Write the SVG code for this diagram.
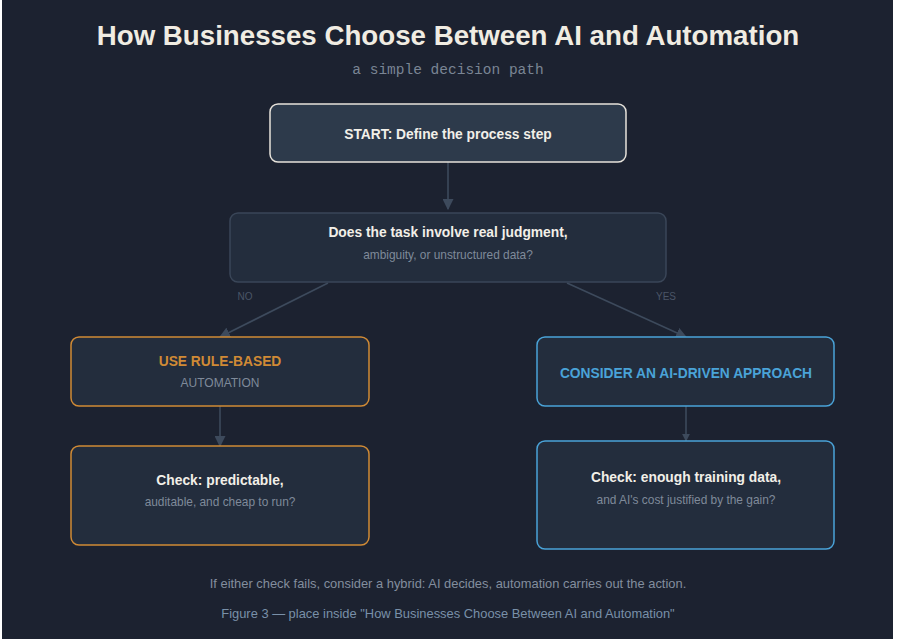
<svg xmlns="http://www.w3.org/2000/svg" width="898" height="639" viewBox="0 0 898 639">
<defs>
<style>
.t{font-family:"Liberation Sans",Arial,sans-serif;text-anchor:middle}
.b{font-weight:bold;font-size:13.8px;fill:#f2efe8}
.s{font-size:11.9px;fill:#7f8a9a}
.lbl{font-size:10px;fill:#4a5567}
.edge{stroke:#3d4a5c;stroke-width:1.6;fill:none}
.box{fill:#232d3d;stroke-width:1.5}
</style>
<marker id="ah" viewBox="0 0 10 10" refX="9" refY="5" markerWidth="8" markerHeight="8" markerUnits="userSpaceOnUse" orient="auto">
<path d="M0,0 L10,5 L0,10 z" fill="#3d4a5c"/>
</marker>
<marker id="ah2" viewBox="0 0 10 10" refX="9" refY="5" markerWidth="11" markerHeight="11" markerUnits="userSpaceOnUse" orient="auto">
<path d="M0,0 L10,5 L0,10 z" fill="#3d4a5c"/>
</marker>
</defs>
<rect width="898" height="639" fill="#ffffff"/>
<rect x="2" y="0" width="891" height="639" fill="#1c2230"/>
<text class="t" x="448" y="45" style="font-weight:bold;font-size:27.7px;fill:#f0ece2">How Businesses Choose Between AI and Automation</text>
<text x="448" y="74" style="font-family:'Liberation Mono','DejaVu Sans Mono',monospace;font-size:14.5px;fill:#7a8594;text-anchor:middle">a simple decision path</text>

<g id="connectors">
<line class="edge" x1="448" y1="162" x2="448" y2="209" marker-end="url(#ah2)"/>
<line class="edge" x1="328" y1="283" x2="220" y2="337" marker-end="url(#ah2)"/>
<line class="edge" x1="567" y1="283" x2="686" y2="337" marker-end="url(#ah2)"/>
<line class="edge" x1="220" y1="406" x2="220" y2="446" marker-end="url(#ah2)"/>
<line class="edge" x1="686" y1="406" x2="686" y2="441" marker-end="url(#ah)"/>
<text class="t lbl" x="245" y="300">NO</text>
<text class="t lbl" x="666" y="300">YES</text>
</g>

<g id="start">
<rect x="270" y="104" width="356" height="58" rx="8" fill="#2d3a4b" stroke="#e6e2da" stroke-width="1.5"/>
<text class="t b" x="448" y="139">START: Define the process step</text>
</g>
<g id="decision">
<rect class="box" x="230" y="213" width="436" height="69" rx="8" stroke="#3a4658"/>
<text class="t b" x="448" y="237">Does the task involve real judgment,</text>
<text class="t s" x="448" y="259">ambiguity, or unstructured data?</text>
</g>
<g id="rule">
<rect class="box" x="71" y="337" width="298" height="69" rx="8" stroke="#d08a35"/>
<text class="t" x="220" y="366" style="font-weight:bold;font-size:13.8px;fill:#d08a35">USE RULE-BASED</text>
<text class="t" x="220" y="387" style="font-size:12px;fill:#7f8a9a">AUTOMATION</text>
</g>
<g id="check-rule">
<rect class="box" x="71" y="446" width="298" height="99" rx="8" stroke="#d08a35"/>
<text class="t b" x="220" y="485">Check: predictable,</text>
<text class="t s" x="220" y="506">auditable, and cheap to run?</text>
</g>
<g id="ai">
<rect class="box" x="537" y="337" width="297" height="69" rx="8" stroke="#4aa3d8"/>
<text class="t" x="686" y="378" style="font-weight:bold;font-size:13.8px;fill:#4aa3d8">CONSIDER AN AI-DRIVEN APPROACH</text>
</g>
<g id="check-ai">
<rect class="box" x="537" y="441" width="297" height="108" rx="8" stroke="#4aa3d8"/>
<text class="t b" x="686" y="482">Check: enough training data,</text>
<text class="t s" x="686" y="504">and AI's cost justified by the gain?</text>
</g>

<text class="t" x="448" y="588" style="font-size:12.9px;fill:#838e9e">If either check fails, consider a hybrid: AI decides, automation carries out the action.</text>
<text class="t" x="448" y="618" style="font-size:12.9px;fill:#7990a8">Figure 3 — place inside "How Businesses Choose Between AI and Automation"</text>
</svg>
